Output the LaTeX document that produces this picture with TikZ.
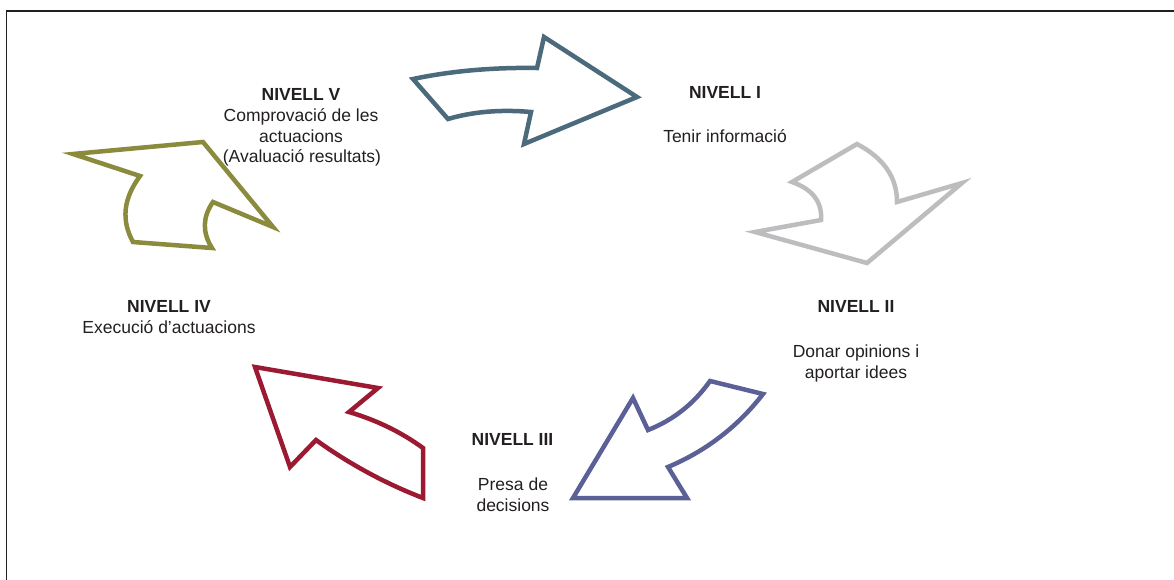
\documentclass[tikz,border=0pt]{standalone}
\usepackage{fontspec}
\setmainfont{Liberation Sans}
\definecolor{txt}{HTML}{231F20}
\definecolor{arrI}{HTML}{4B6A7B}
\definecolor{arrII}{HTML}{BDBDBF}
\definecolor{arrIII}{HTML}{5B6096}
\definecolor{arrIV}{HTML}{9C1A31}
\definecolor{arrV}{HTML}{8A8B3D}
\begin{document}
\begin{tikzpicture}[x=1pt,y=-1pt,
  lbl/.style={anchor=base,inner sep=0pt,text=txt,font=\fontsize{17.5}{21}\selectfont},
  ttl/.style={lbl,font=\fontsize{17.5}{21}\selectfont\bfseries},
  cyclearrow/.style={draw=#1,line width=4.5pt,line join=miter,miter limit=10,fill=white}]
\useasboundingbox (0,0) rectangle (1174,579);

% frame
\draw[line width=2.5pt,txt] (6.5,11) -- (1176,11);
\draw[line width=1.4pt,txt] (6.5,10) -- (6.5,581);

% arrow V -> I
\draw[cyclearrow=arrI] (413,79) .. controls (451,71) and (492.3,67.3) .. (537,68) -- (544,37) -- (637,97)
  -- (524,144) -- (531,112) .. controls (500.3,109.3) and (472.7,111.7) .. (448,119) -- cycle;
% arrow I -> II
\draw[cyclearrow=arrII] (857,144) .. controls (883.7,158) and (897,177.3) .. (897,202) -- (962,183) -- (867,263)
  -- (755,232) -- (821,220) .. controls (822.3,202) and (812.7,189.3) .. (792,182) -- cycle;
% arrow II -> III
\draw[cyclearrow=arrIII] (710,381) -- (763,394) .. controls (737.7,426.7) and (706,451) .. (668,467) -- (687,498)
  -- (573,498) -- (633,398) -- (648,430) .. controls (673.3,420) and (694,403.7) .. cycle;
% arrow III -> IV
\draw[cyclearrow=arrIV] (255,367) -- (378,388) -- (349,412) .. controls (376.3,420) and (401,432) .. (423,448)
  -- (423,498) .. controls (385,483.3) and (349.3,464) .. (316,440) -- (290,467) -- cycle;
% arrow IV -> V
\draw[cyclearrow=arrV] (73,154) -- (203,142) -- (273,227) -- (213,202)
  .. controls (202.3,217.3) and (202.3,232.7) .. (212,248) -- (133,242)
  .. controls (121,220) and (123.3,198.7) .. (140,176) -- cycle;

% level texts
\node[ttl] (t1) at (725,98.3) {NIVELL I};
\node[lbl] (b1) at (725,142.5) {Tenir informació};

\node[ttl] (t2) at (856,312) {NIVELL II};
\node[lbl] (b2a) at (856,357.5) {Donar opinions i};
\node[lbl] (b2b) at (856,378.5) {aportar idees};

\node[ttl] (t3) at (512.5,445) {NIVELL III};
\node[lbl] (b3a) at (513,490.5) {Presa de};
\node[lbl] (b3b) at (513,511) {decisions};

\node[ttl] (t4) at (169,312.5) {NIVELL IV};
\node[lbl] (b4) at (169,333.5) {Execució d’actuacions};

\node[ttl] (t5) at (301,100) {NIVELL V};
\node[lbl] (b5a) at (301,121) {Comprovació de les};
\node[lbl] (b5b) at (301,142) {actuacions};
\node[lbl] (b5c) at (302,162.5) {(Avaluació resultats)};
\end{tikzpicture}
\end{document}
